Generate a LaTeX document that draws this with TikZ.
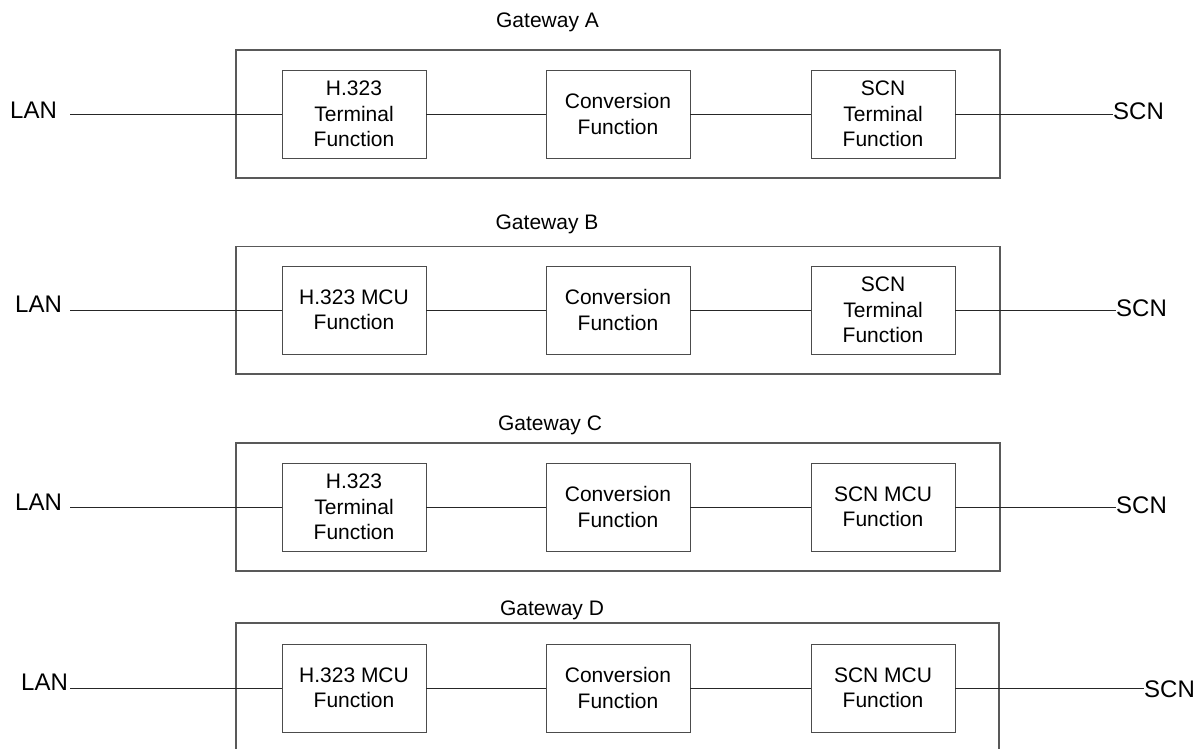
\documentclass[tikz,border=0pt]{standalone}
\usepackage{fontspec}
\setmainfont{Liberation Sans}
\begin{document}
\begin{tikzpicture}[x=1pt,y=-1pt,
  outerbox/.style={draw=black!65,line width=1.3pt,inner sep=0pt,minimum width=764pt},
  fbox/.style={draw=black!70,line width=0.9pt,minimum width=144pt,minimum height=88pt,inner sep=0pt,align=center,font=\fontsize{21}{25.5}\selectfont},
  gwtitle/.style={anchor=base,inner sep=0pt,font=\fontsize{21}{25}\selectfont},
  endlabel/.style={inner sep=0pt,font=\fontsize{24}{28}\selectfont},
  conn/.style={draw=black!85,line width=0.9pt}]
\clip (0,0) rectangle (1204,749);
% Gateway A
\node[gwtitle] (tA) at (547.5,28) {Gateway A};
\node[outerbox,minimum height=128pt] (oA) at (618,114) {};
\node[fbox] (a1) at (354,114) {H.323\\Terminal\\Function};
\node[fbox] (a2) at (618,114) {Conversion\\Function};
\node[fbox] (a3) at (883,114) {SCN\\Terminal\\Function};
\node[endlabel,anchor=base west] (lA) at (10,119) {LAN};
\node[endlabel,anchor=base west] (sA) at (1113,120) {SCN};
\coordinate (lanA) at (70,114);
\draw[conn] (lanA) -- (a1.west);
\draw[conn] (a1) -- (a2);
\draw[conn] (a2) -- (a3);
\draw[conn] (a3.east) -- (a3.east -| sA.west);
% Gateway B
\node[gwtitle] (tB) at (547,229) {Gateway B};
\node[outerbox,minimum height=127.3pt] (oB) at (618,310.3) {};
\node[fbox] (b1) at (354,310) {H.323 MCU\\Function};
\node[fbox] (b2) at (618,310) {Conversion\\Function};
\node[fbox] (b3) at (883,310) {SCN\\Terminal\\Function};
\node[endlabel,anchor=base west] (lB) at (15,312) {LAN};
\node[endlabel,anchor=base west] (sB) at (1116,316) {SCN};
\coordinate (lanB) at (70,310);
\draw[conn] (lanB) -- (b1.west);
\draw[conn] (b1) -- (b2);
\draw[conn] (b2) -- (b3);
\draw[conn] (b3.east) -- (b3.east -| sB.west);
% Gateway C
\node[gwtitle] (tC) at (550,430) {Gateway C};
\node[outerbox,minimum height=128pt] (oC) at (618,507) {};
\node[fbox] (c1) at (354,507) {H.323\\Terminal\\Function};
\node[fbox] (c2) at (618,507) {Conversion\\Function};
\node[fbox] (c3) at (883,507) {SCN MCU\\Function};
\node[endlabel,anchor=base west] (lC) at (15,510) {LAN};
\node[endlabel,anchor=base west] (sC) at (1116,513) {SCN};
\coordinate (lanC) at (70,507);
\draw[conn] (lanC) -- (c1.west);
\draw[conn] (c1) -- (c2);
\draw[conn] (c2) -- (c3);
\draw[conn] (c3.east) -- (c3.east -| sC.west);
% Gateway D
\node[gwtitle] (tD) at (552,615) {Gateway D};
\node[outerbox,minimum width=763pt,minimum height=160pt] (oD) at (617.5,703) {};
\node[fbox] (d1) at (354,688) {H.323 MCU\\Function};
\node[fbox] (d2) at (618,688) {Conversion\\Function};
\node[fbox] (d3) at (883,688) {SCN MCU\\Function};
\node[endlabel,anchor=base west] (lD) at (21,690) {LAN};
\node[endlabel,anchor=base west] (sD) at (1144,697) {SCN};
\coordinate (lanD) at (70,688);
\draw[conn] (lanD) -- (d1.west);
\draw[conn] (d1) -- (d2);
\draw[conn] (d2) -- (d3);
\draw[conn] (d3.east) -- (d3.east -| sD.west);
\end{tikzpicture}
\end{document}
